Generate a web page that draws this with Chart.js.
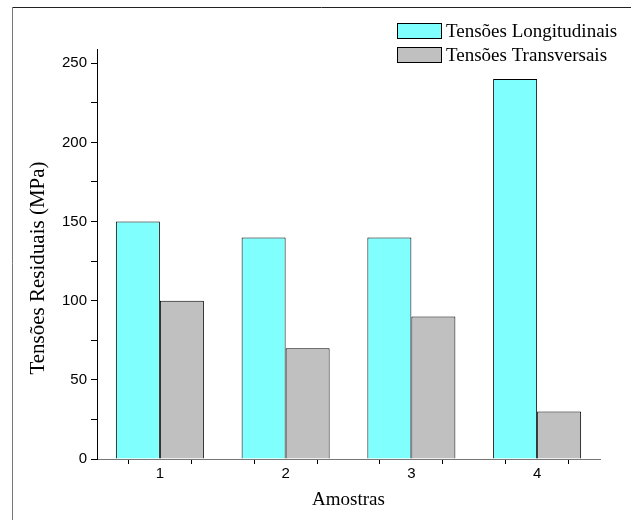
<!DOCTYPE html>
<html>
<head>
<meta charset="utf-8">
<script src="https://cdn.jsdelivr.net/npm/chart.js@4"></script>
<style>
  html, body { margin: 0; padding: 0; background: #fff; }
  canvas { display: block; }
</style>
</head>
<body>
<canvas id="c" width="631" height="520"></canvas>
<script>
// ---- data ----
const categories = [1, 2, 3, 4];
const seriesNames = ['Tensões Longitudinais', 'Tensões Transversais'];
const longitudinais = [150, 140, 140, 240];
const transversais = [100, 70, 90, 30];
const yTickLabels = [0, 50, 100, 150, 200, 250];
const xTitle = 'Amostras';
const yTitle = 'Tensões Residuais (MPa)';

const SERIF = '"Liberation Serif", "Times New Roman", serif';
const SANS = '"Liberation Sans", Arial, sans-serif';

const framePlugin = {
  id: 'frame',
  beforeDraw(chart) {
    const ctx = chart.ctx;
    ctx.save();
    ctx.lineWidth = 1;
    ctx.strokeStyle = '#222';
    ctx.beginPath(); ctx.moveTo(12, 7.5); ctx.lineTo(631, 7.5); ctx.stroke();
    ctx.strokeStyle = '#777';
    ctx.beginPath(); ctx.moveTo(12.5, 7); ctx.lineTo(12.5, 520); ctx.stroke();
    ctx.restore();
  }
};

const legendPlugin = {
  id: 'customLegend',
  afterDraw(chart) {
    const ctx = chart.ctx;
    ctx.save();
    ctx.font = '19px ' + SERIF;
    ctx.textBaseline = 'middle';
    ctx.textAlign = 'left';
    chart.data.datasets.forEach((ds, i) => {
      const cy = 31 + i * 24;
      ctx.fillStyle = ds.backgroundColor;
      ctx.fillRect(397, cy - 8, 45, 16);
      ctx.strokeStyle = '#000';
      ctx.lineWidth = 1;
      ctx.strokeRect(397.5, cy - 7.5, 44, 15);
      ctx.fillStyle = '#000';
      ctx.fillText(ds.label, 446, cy + 1);
    });
    ctx.restore();
  }
};

const yTitlePlugin = {
  id: 'yTitle',
  afterDraw(chart) {
    const ctx = chart.ctx;
    ctx.save();
    ctx.translate(38, 268);
    ctx.rotate(-Math.PI / 2);
    ctx.font = '21px ' + SERIF;
    ctx.fillStyle = '#000';
    ctx.textAlign = 'center';
    ctx.textBaseline = 'middle';
    ctx.fillText(yTitle, 0, 0);
    ctx.restore();
  }
};

new Chart(document.getElementById('c'), {
  type: 'bar',
  data: {
    datasets: [
      {
        label: seriesNames[0],
        data: categories.map((c, i) => ({ x: c, y: longitudinais[i] })),
        backgroundColor: '#80FFFF',
        borderColor: '#000',
        borderWidth: 1
      },
      {
        label: seriesNames[1],
        data: categories.map((c, i) => ({ x: c, y: transversais[i] })),
        backgroundColor: '#C0C0C0',
        borderColor: '#000',
        borderWidth: 1
      }
    ]
  },
  options: {
    responsive: false,
    animation: false,
    devicePixelRatio: 1,
    categoryPercentage: 1.4,
    barPercentage: 1.0,
    layout: { padding: { top: 49, right: 31, left: 0, bottom: 0 } },
    plugins: {
      legend: { display: false },
      tooltip: { enabled: false }
    },
    scales: {
      x: {
        type: 'linear',
        min: 0.5,
        max: 4.5,
        offset: false,
        afterFit(scale) { scale.height = 61; },
        grid: { drawOnChartArea: false, drawTicks: true, tickLength: 5, color: '#000' },
        border: { color: '#777', width: 1 },
        ticks: {
          stepSize: 0.5,
          autoSkip: false,
          maxRotation: 0,
          includeBounds: false,
          padding: 1,
          color: '#000',
          font: { family: SANS, size: 15 },
          callback(v) {
            const i = categories.indexOf(v);
            return i >= 0 ? String(categories[i]) : '';
          }
        },
        title: {
          display: true,
          text: xTitle,
          color: '#000',
          font: { family: SERIF, size: 19 },
          padding: { top: 0, bottom: 9 }
        }
      },
      y: {
        min: 0,
        max: 259,
        afterFit(scale) { scale.width = 97; },
        grid: { drawOnChartArea: false, drawTicks: true, tickLength: 6, color: '#000' },
        border: { color: '#000', width: 1 },
        ticks: {
          stepSize: 25,
          includeBounds: false,
          autoSkip: false,
          padding: 4,
          color: '#000',
          font: { family: SANS, size: 15 },
          callback(v) { return yTickLabels.includes(v) ? String(v) : ''; }
        }
      }
    }
  },
  plugins: [framePlugin, legendPlugin, yTitlePlugin]
});
</script>
</body>
</html>
